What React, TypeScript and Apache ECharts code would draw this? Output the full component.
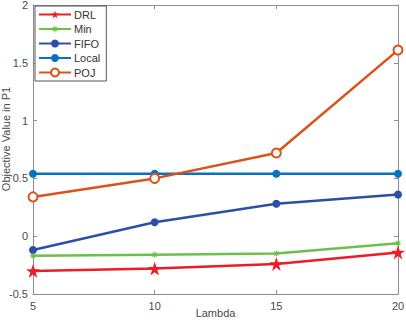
import React, { useEffect, useRef } from "react";
import * as echarts from "echarts";

const lambdas = [5, 10, 15, 20];
const drl = [-0.3, -0.28, -0.24, -0.14];
const minV = [-0.17, -0.16, -0.15, -0.06];
const fifo = [-0.12, 0.12, 0.28, 0.36];
const local = [0.54, 0.54, 0.54, 0.54];
const poj = [0.34, 0.5, 0.72, 1.61];
const seriesNames = ["DRL", "Min", "FIFO", "Local", "POJ"];
const xTitle = "Lambda";
const yTitle = "Objective Value in P1";

const STAR = "path://M50 0L61.2 34.6L97.6 34.5L68.1 55.9L79.4 90.5L50 69L20.6 90.5L31.9 55.9L2.4 34.5L38.8 34.6Z";
const AST = "path://M100 50L68.5 57.7L85.4 85.4L57.7 68.5L50 100L42.3 68.5L14.6 85.4L31.5 57.7L0 50L31.5 42.3L14.6 14.6L42.3 31.5L50 0L57.7 31.5L85.4 14.6L68.5 42.3Z";

const FONT = "Liberation Sans, Arial, sans-serif";
const TXT = "#4a4a4a";
const AX = "#8c8c8c";

export default function App() {
  const ref = useRef<HTMLDivElement>(null);
  useEffect(() => {
    if (!ref.current) return;
    const chart = echarts.init(ref.current, null, { renderer: "svg" });
    const pts = (arr: number[]) => lambdas.map((x, i) => [x, arr[i]]);
    const mk = (name: string, data: number[], color: string, symbol: string, size: number, extra: any = {}) => ({
      name,
      type: "line",
      data: pts(data),
      symbol,
      symbolSize: size,
      lineStyle: { color, width: 2.5 },
      itemStyle: { color, ...(extra.itemStyle || {}) },
    });
    const xCommon = {
      type: "value",
      min: 5,
      max: 20,
      interval: 5,
      splitLine: { show: false },
      axisLine: { show: true, onZero: false, lineStyle: { color: AX, width: 1 } },
      axisTick: { show: true, inside: true, length: 4, lineStyle: { color: AX } },
    };
    const yCommon = {
      type: "value",
      min: -0.5,
      max: 2,
      interval: 0.5,
      splitLine: { show: false },
      axisLine: { show: true, onZero: false, lineStyle: { color: AX, width: 1 } },
      axisTick: { show: true, inside: true, length: 4, lineStyle: { color: AX } },
    };
    chart.setOption({
      animation: false,
      textStyle: { fontFamily: FONT },
      grid: { left: 33, right: 8, top: 5, bottom: 26, containLabel: false, outerBoundsMode: "none" },
      legend: {
        orient: "vertical",
        left: 35,
        top: 6,
        data: seriesNames,
        itemWidth: 32,
        itemHeight: 10,
        itemGap: 3.5,
        padding: [3, 6, 3, 3],
        borderColor: "#555",
        borderWidth: 1,
        backgroundColor: "#fff",
        textStyle: { fontFamily: FONT, fontSize: 11, color: "#333", padding: [0, 0, 0, -2] },
      },
      graphic: [
        {
          type: "text",
          x: 6,
          y: 139,
          rotation: Math.PI / 2,
          style: {
            text: yTitle,
            fontFamily: FONT,
            fontSize: 11,
            fill: TXT,
            align: "center",
            verticalAlign: "middle",
          },
        },
        {
          type: "text",
          x: 215.5,
          y: 313,
          style: {
            text: xTitle,
            fontFamily: FONT,
            fontSize: 11,
            fill: TXT,
            align: "center",
            verticalAlign: "middle",
          },
        },
      ],
      xAxis: [
        {
          ...xCommon,
          position: "bottom",
          axisLabel: { fontFamily: FONT, fontSize: 11, color: TXT, margin: 6, showMinLabel: true, showMaxLabel: true },
        },
        { ...xCommon, position: "top", axisLabel: { show: false } },
      ],
      yAxis: [
        {
          ...yCommon,
          position: "left",
          axisLabel: { fontFamily: FONT, fontSize: 11, color: TXT, margin: 5, showMinLabel: true, showMaxLabel: true },
        },
        { ...yCommon, position: "right", axisLabel: { show: false } },
      ],
      series: [
        mk("Local", local, "#0a72bd", "circle", 8),
        mk("POJ", poj, "#d9531a", "emptyCircle", 9, { itemStyle: { borderWidth: 2.2, borderColor: "#d9531a" } }),
        mk("FIFO", fifo, "#2c4fa6", "circle", 8),
        mk("Min", minV, "#6cc04a", AST, 8),
        mk("DRL", drl, "#ee1c24", STAR, 14),
      ],
    });
    return () => chart.dispose();
  }, []);
  return <div ref={ref} style={{ width: 406, height: 320, position: "absolute", left: 0, top: 0 }} />;
}
